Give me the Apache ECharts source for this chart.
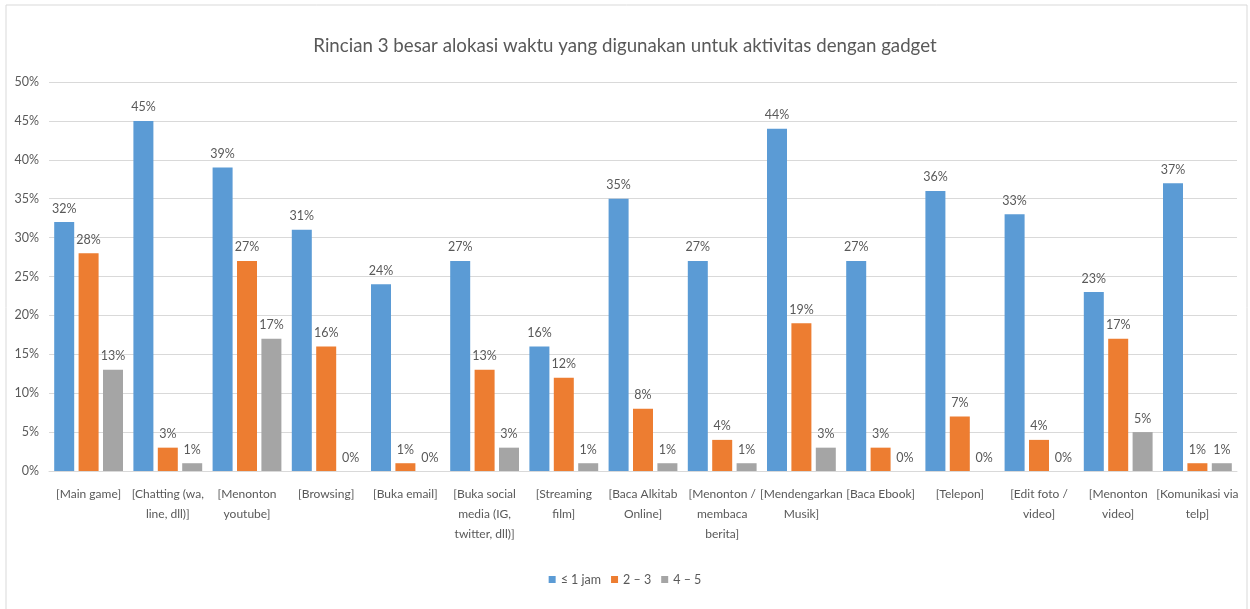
<!DOCTYPE html>
<html>
<head>
<meta charset="utf-8">
<script src="https://cdn.jsdelivr.net/npm/echarts@6/dist/echarts.min.js"></script>
<style>
  html, body { margin: 0; padding: 0; background: #fff; }
  #chart { width: 1250px; height: 609px; }
</style>
</head>
<body>
<div id="chart"></div>
<script>
// Activity categories (line breaks follow the wrapped axis labels)
const categories = [
  '[Main game]',
  '[Chatting (wa,\nline, dll)]',
  '[Menonton\nyoutube]',
  '[Browsing]',
  '[Buka email]',
  '[Buka social\nmedia (IG,\ntwitter, dll)]',
  '[Streaming\nfilm]',
  '[Baca Alkitab\nOnline]',
  '[Menonton /\nmembaca\nberita]',
  '[Mendengarkan\nMusik]',
  '[Baca Ebook]',
  '[Telepon]',
  '[Edit foto /\nvideo]',
  '[Menonton\nvideo]',
  '[Komunikasi via\ntelp]'
];

// Share of respondents (%) per time bracket
const upTo1Hour = [32, 45, 39, 31, 24, 27, 16, 35, 27, 44, 27, 36, 33, 23, 37];
const hours2to3 = [28, 3, 27, 16, 1, 13, 12, 8, 4, 19, 3, 7, 4, 17, 1];
const hours4to5 = [13, 1, 17, 0, 0, 3, 1, 1, 1, 3, 0, 0, 0, 5, 1];

const seriesNames = ['\u2264 1 jam', '2 \u2013 3', '4 \u2013 5'];
const yTicks = { min: 0, max: 50, interval: 5 };

const FONT = 'Lato, "Open Sans", sans-serif';
const TXT = '#595959';

const chart = echarts.init(document.getElementById('chart'));

function barSeries(name, data, color) {
  return {
    name: name,
    type: 'bar',
    data: data,
    barWidth: 20,
    barGap: '22%',
    itemStyle: { color: color },
    label: {
      show: true,
      position: 'top',
      distance: 7,
      formatter: p => p.value + '%',
      color: TXT,
      fontFamily: FONT,
      fontSize: 12.5
    }
  };
}

chart.setOption({
  backgroundColor: '#ffffff',
  animation: false,
  graphic: [{
    type: 'rect',
    shape: { x: 6, y: 5, width: 1241, height: 620 },
    style: { fill: 'none', stroke: '#d9d9d9', lineWidth: 1 },
    silent: true,
    z: -1
  }],
  title: {
    text: 'Rincian 3 besar alokasi waktu yang digunakan untuk aktivitas dengan gadget',
    left: 'center',
    top: 31,
    textStyle: { color: TXT, fontFamily: FONT, fontSize: 18.7, fontWeight: 'normal' }
  },
  legend: {
    bottom: 18,
    left: 'center',
    itemWidth: 7,
    itemHeight: 7,
    itemGap: 10,
    icon: 'rect',
    textStyle: { color: TXT, fontFamily: FONT, fontSize: 12.5 },
    data: seriesNames
  },
  grid: { left: 49, right: 13, top: 82, bottom: 138, containLabel: false },
  xAxis: {
    type: 'category',
    data: categories,
    axisTick: { show: false },
    axisLine: { lineStyle: { color: '#d9d9d9' } },
    axisLabel: {
      interval: 0,
      margin: 13,
      color: TXT,
      fontFamily: FONT,
      fontSize: 12,
      lineHeight: 20
    }
  },
  yAxis: {
    type: 'value',
    min: yTicks.min,
    max: yTicks.max,
    interval: yTicks.interval,
    axisLine: { show: false },
    axisTick: { show: false },
    splitLine: { lineStyle: { color: '#d9d9d9' } },
    axisLabel: {
      formatter: '{value}%',
      margin: 10,
      color: TXT,
      fontFamily: FONT,
      fontSize: 12.5
    }
  },
  series: [
    barSeries(seriesNames[0], upTo1Hour, '#5B9BD5'),
    barSeries(seriesNames[1], hours2to3, '#ED7D31'),
    barSeries(seriesNames[2], hours4to5, '#A5A5A5')
  ]
});
</script>
</body>
</html>
